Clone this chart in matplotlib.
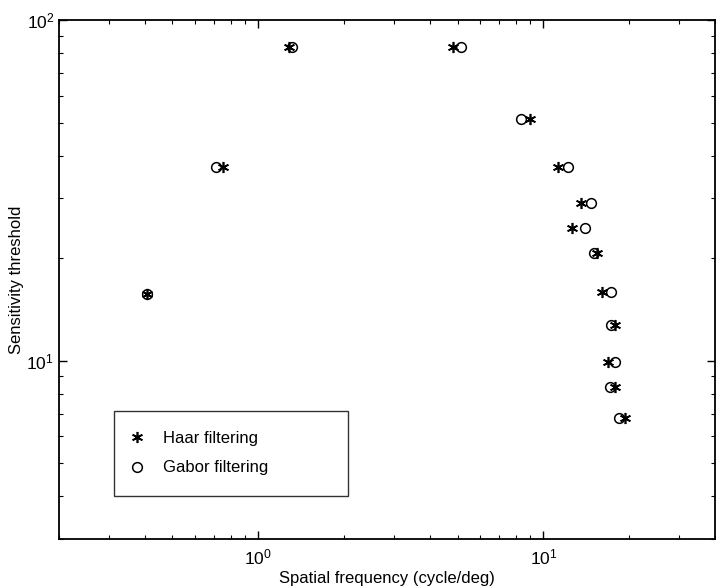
import matplotlib
matplotlib.use("Agg")
import matplotlib.pyplot as plt
from matplotlib.ticker import LogLocator, NullFormatter

plt.rcParams['font.family'] = ['Liberation Sans', 'DejaVu Sans']

# values
haar_x = [0.407, 0.755, 1.28, 4.82, 9.01, 11.3, 13.5, 12.6, 15.4, 16.1, 17.9, 16.8, 17.8, 19.3]
gabor_x = [0.407, 0.708, 1.31, 5.14, 8.38, 12.2, 14.7, 14.0, 15.1, 17.3, 17.3, 17.8, 17.1, 18.4]
threshold = [15.7, 37.0, 83.3, 83.3, 51.2, 37.0, 29.0, 24.5, 20.7, 15.9, 12.7, 9.9, 8.38, 6.79]

fig = plt.figure(figsize=(7.16, 5.88), dpi=100)
ax = fig.add_axes([0.0824, 0.0833, 0.9162, 0.8827])

ax.plot(haar_x, threshold, linestyle='none', marker=(6, 2, 0), markersize=8,
        markeredgewidth=1.2, color='black', label='Haar filtering')
ax.plot(gabor_x, threshold, linestyle='none', marker='o', markersize=7,
        markerfacecolor='none', markeredgewidth=1.1, color='black', label='Gabor filtering')

ax.set_xscale('log')
ax.set_yscale('log')
ax.set_xlim(0.2, 40)
ax.set_ylim(3, 100)

ax.xaxis.set_minor_locator(LogLocator(base=10, subs=range(2, 10)))
ax.yaxis.set_minor_locator(LogLocator(base=10, subs=range(2, 10)))
ax.xaxis.set_minor_formatter(NullFormatter())
ax.yaxis.set_minor_formatter(NullFormatter())

ax.tick_params(which='both', direction='in', top=True, right=True, labelsize=12.5)
ax.tick_params(axis='x', which='major', pad=6)
ax.tick_params(which='major', length=6, width=1)
ax.tick_params(which='minor', length=3, width=0.8)
for s in ax.spines.values():
    s.set_linewidth(1.3)

ax.set_xlabel('Spatial frequency (cycle/deg)', fontsize=12, labelpad=3)
ax.set_ylabel('Sensitivity threshold', fontsize=12, labelpad=2)

leg = ax.legend(loc='lower left', bbox_to_anchor=(0.0838, 0.0829, 0.357, 0.2),
                mode='expand', fontsize=12, frameon=True, fancybox=False,
                edgecolor='black', borderpad=1.23, handlelength=0.3,
                handletextpad=1.4, labelspacing=0.85, borderaxespad=0)
leg.get_frame().set_linewidth(1.0)

fig.savefig('out.png', dpi=100)
